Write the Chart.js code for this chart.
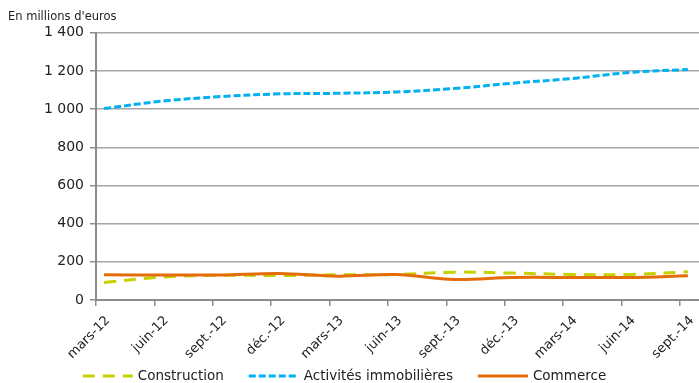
<!DOCTYPE html>
<html>
<head>
<meta charset="utf-8">
<script src="https://cdn.jsdelivr.net/npm/chart.js@4/dist/chart.umd.min.js"></script>
<style>
  html, body { margin: 0; padding: 0; background: #fff; overflow: hidden; }
  canvas { display: block; }
</style>
</head>
<body>
<canvas id="c" width="699" height="383"></canvas>
<script>
// Quarterly outstanding amounts, in millions of euros
const categories = ['mars-12','juin-12','sept.-12','déc.-12','mars-13','juin-13','sept.-13','déc.-13','mars-14','juin-14','sept.-14'];
const construction = [92, 120, 130, 128, 132, 133, 146, 141, 134, 134, 148];
const immobilier   = [1003, 1042, 1066, 1080, 1083, 1090, 1108, 1136, 1160, 1192, 1208];
const commerce     = [132, 131, 131, 139, 125, 133, 108, 118, 118, 118, 127];
const yTicks = [0, 200, 400, 600, 800, 1000, 1200, 1400];

const FONT = "'DejaVu Sans', Verdana, sans-serif";
const TICK_SHIFT = 0.137; // category tick marks sit slightly left of the data points

function pts(values) { return values.map((v, i) => ({ x: i, y: v })); }
function fmt(v) { return String(v).replace(/\B(?=(\d{3})+(?!\d))/g, ' '); }

// Single-row legend under the axis: sample line, then label
const bottomLegend = {
  id: 'bottomLegend',
  afterDraw(chart) {
    const ctx = chart.ctx;
    const y = 376, lineW = 50, textGap = 5, itemGap = 25, centerX = 344.5;
    ctx.save();
    ctx.font = '13.5px ' + FONT;
    const items = chart.data.datasets.map(ds => ({ ds, w: ctx.measureText(ds.label).width }));
    const total = items.reduce((s, it) => s + lineW + textGap + it.w, 0) + itemGap * (items.length - 1);
    let x = centerX - total / 2;
    items.forEach(({ ds, w }) => {
      ctx.beginPath();
      ctx.setLineDash(ds.borderDash || []);
      ctx.lineWidth = ds.borderWidth;
      ctx.strokeStyle = ds.borderColor;
      ctx.moveTo(x, y);
      ctx.lineTo(x + lineW, y);
      ctx.stroke();
      ctx.setLineDash([]);
      ctx.fillStyle = '#222';
      ctx.textBaseline = 'middle';
      ctx.textAlign = 'left';
      ctx.fillText(ds.label, x + lineW + textGap, y);
      x += lineW + textGap + w + itemGap;
    });
    ctx.restore();
  }
};

new Chart(document.getElementById('c'), {
  type: 'line',
  data: {
    datasets: [
      { label: 'Construction', data: pts(construction), borderColor: '#c8d100', backgroundColor: '#c8d100',
        borderWidth: 3, borderDash: [12, 8], pointRadius: 0, tension: 0.35, order: 2 },
      { label: 'Activités immobilières', data: pts(immobilier), borderColor: '#00b0f0', backgroundColor: '#00b0f0',
        borderWidth: 3, borderDash: [7, 3], pointRadius: 0, tension: 0.35, order: 1 },
      { label: 'Commerce', data: pts(commerce), borderColor: '#e46c0a', backgroundColor: '#e46c0a',
        borderWidth: 3, pointRadius: 0, tension: 0.35, order: 0 }
    ]
  },
  plugins: [bottomLegend],
  options: {
    responsive: false,
    animation: false,
    devicePixelRatio: 1,
    layout: { padding: { left: 8, right: 0, top: 0, bottom: 13 } },
    plugins: {
      title: {
        display: true, text: "En millions d'euros", align: 'start', color: '#222',
        font: { family: FONT, size: 11.5, weight: 'normal' }, padding: { top: 10, bottom: 9 }
      },
      legend: { display: false },
      tooltip: { enabled: false }
    },
    scales: {
      x: {
        type: 'linear',
        min: -TICK_SHIFT,
        max: 10.19,
        afterBuildTicks: (scale) => {
          scale.ticks = categories.map((c, i) => ({ value: i - TICK_SHIFT }));
        },
        afterFit: (scale) => { scale.height = 70; },
        ticks: {
          autoSkip: false, minRotation: 45, maxRotation: 45, color: '#222',
          font: { family: FONT, size: 13 }, padding: 7, labelOffset: 12,
          callback: (v, i) => categories[i]
        },
        grid: { drawOnChartArea: false, color: '#8c8c8c', tickLength: 6, lineWidth: 1.5 },
        border: { color: '#8c8c8c', width: 2 }
      },
      y: {
        min: 0, max: 1400,
        afterBuildTicks: (scale) => { scale.ticks = yTicks.map(v => ({ value: v })); },
        afterFit: (scale) => { scale.width = 88; },
        ticks: {
          color: '#222', font: { family: FONT, size: 14 }, padding: 6,
          callback: (v) => fmt(v)
        },
        grid: { color: '#a6a6a6', lineWidth: 1.5, tickLength: 6, tickColor: '#8c8c8c' },
        border: { color: '#8c8c8c', width: 2 }
      }
    }
  }
});
</script>
</body>
</html>
